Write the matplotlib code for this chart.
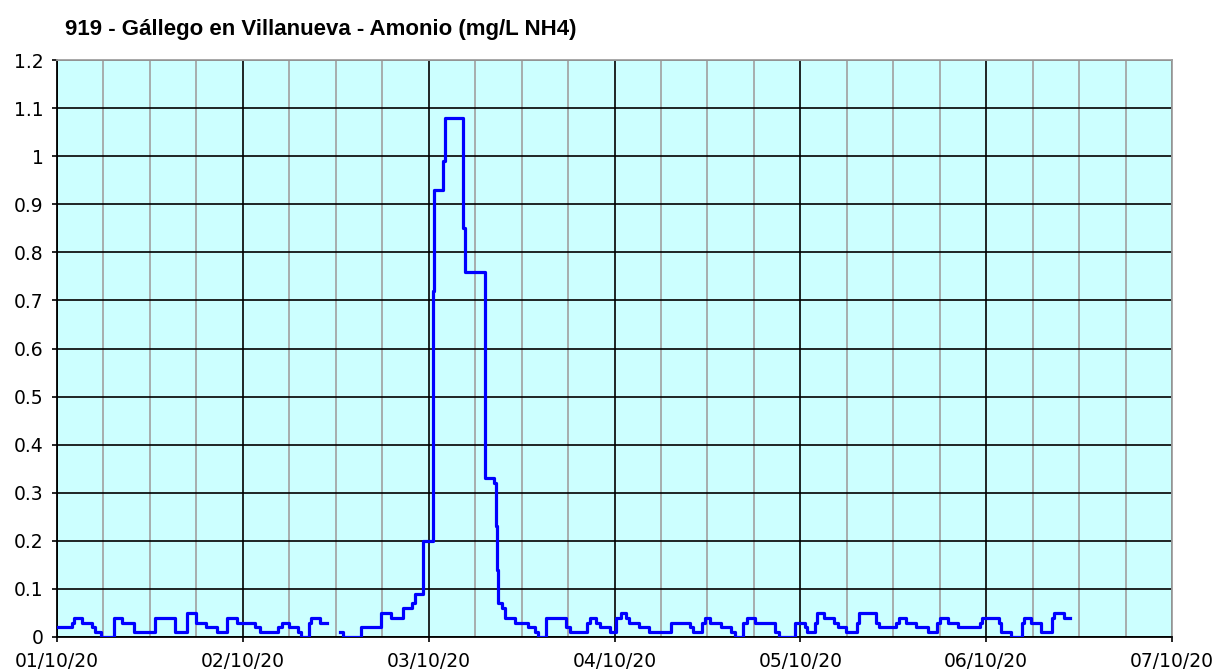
import numpy as np
import matplotlib
matplotlib.use("Agg")
import matplotlib.pyplot as plt
import matplotlib.dates as mdates
from datetime import datetime

title = "919 - Gállego en Villanueva - Amonio (mg/L NH4)"
start = datetime(2020, 10, 1)
n_days = 6

# step series: hour (since 01/10/20 00:00) where a new reading starts, and its value
hours = [0, 1.9, 2.2, 3.2, 4.5, 4.9, 5.7, 7.3, 8.4, 9.9, 12.7, 15.3, 16.8, 17.9, 19.3, 20.6, 21.9, 23.2,
         25.6, 26.2, 28.6, 29.0, 29.9, 31.1, 31.5, 32.5, 32.8, 34.0, 34.9, 36.6, 37.0, 39.3, 41.9, 43.2,
         44.7, 45.8, 46.2, 47.3,
         48.5, 48.75, 49.8, 50.1, 52.4, 52.7, 55.3, 56.4, 56.7, 56.8, 56.9, 57.5, 57.8, 59.1, 60.8, 61.7,
         62.1, 63.2, 65.8, 66.2, 68.5, 68.8, 69.6, 70.1, 71.4,
         72.2, 72.8, 73.5, 73.9, 75.2, 76.5, 79.3, 81.8, 82.1, 83.3, 83.7, 84.3, 85.8, 87.1, 87.6, 88.6,
         89.1, 90.2, 92.75, 93.2, 95.35,
         96.6, 96.8, 97.9, 98.2, 99.1, 100.4, 100.8, 101.9, 103.3, 103.6, 105.8, 106.2, 108.4, 108.8,
         109.7, 111.0, 112.5, 113.6, 114.0, 115.05, 116.3, 119.2, 119.4,
         121.7, 121.9, 123.2, 124.6, 124.9, 125.8, 127.1, 128.5, 128.8, 130.0, 130.8]
nh4 = [0.02, 0.03, 0.04, 0.03, 0.02, 0.01, 0.00, 0.04, 0.03, 0.01, 0.04, 0.01, 0.05, 0.03, 0.02, 0.01, 0.04, 0.03,
       0.02, 0.01, 0.02, 0.03, 0.02, 0.01, 0.00, 0.03, 0.04, 0.03, np.nan, 0.01, 0.00, 0.02, 0.05, 0.04,
       0.06, 0.07, 0.09, 0.20,
       0.72, 0.93, 0.99, 1.08, 0.85, 0.76, 0.33, 0.32, 0.23, 0.14, 0.07, 0.06, 0.04, 0.03, 0.02, 0.01,
       0.00, 0.04, 0.02, 0.01, 0.03, 0.04, 0.03, 0.02, 0.01,
       0.04, 0.05, 0.04, 0.03, 0.02, 0.01, 0.03, 0.02, 0.01, 0.03, 0.04, 0.03, 0.02, 0.01, 0.00, 0.03,
       0.04, 0.03, 0.01, 0.00, 0.03,
       0.02, 0.01, 0.03, 0.05, 0.04, 0.03, 0.02, 0.01, 0.03, 0.05, 0.03, 0.02, 0.03, 0.04,
       0.03, 0.02, 0.01, 0.03, 0.04, 0.03, 0.02, 0.03, 0.04,
       0.03, 0.01, 0.00, 0.03, 0.04, 0.03, 0.01, 0.04, 0.05, 0.04, 0.04]

t0 = mdates.date2num(start)
t = t0 + np.array(hours) / 24.0
v = np.array(nh4, dtype=float)

fig = plt.figure(figsize=(12.17, 6.71), dpi=100)
ax = fig.add_axes([57 / 1217, 1 - 637 / 671, (1172 - 57) / 1217, (637 - 60) / 671])
ax.set_facecolor("#ccffff")

ax.plot(t, v, drawstyle="steps-post", color="#0000ff", lw=2.3, zorder=3)

ax.set_xlim(t0, t0 + n_days)
ax.set_ylim(0, 1.2)
ax.xaxis.set_major_locator(mdates.DayLocator())
ax.xaxis.set_major_formatter(mdates.DateFormatter("%d/%m/%y"))
ax.xaxis.set_minor_locator(mdates.HourLocator(byhour=[6, 12, 18]))
ax.set_yticks(np.round(np.arange(0, 1.21, 0.1), 1))
ax.set_yticklabels(["0", "0.1", "0.2", "0.3", "0.4", "0.5", "0.6", "0.7", "0.8", "0.9", "1", "1.1", "1.2"])

ax.grid(True, which="minor", axis="x", color="#a0a0a0", lw=1.2)
ax.grid(True, which="major", axis="x", color="black", lw=1.2)
ax.grid(True, which="major", axis="y", color="black", lw=1.2)
ax.set_axisbelow(True)

for s in ["left", "bottom"]:
    ax.spines[s].set_color("black")
    ax.spines[s].set_linewidth(1.3)
for s in ["top", "right"]:
    ax.spines[s].set_color("#a0a0a0")
    ax.spines[s].set_linewidth(1.3)

ax.tick_params(axis="both", which="major", labelsize=13.5, width=1.2, color="black")
ax.tick_params(axis="x", which="minor", length=0)
ax.tick_params(axis="x", length=3.5, pad=7)
ax.tick_params(axis="y", length=3.6, pad=6)

fig.text(65 / 1217, 1 - 30 / 671, title, fontsize=16, fontweight="bold",
         family="Liberation Sans", ha="left", va="center")

fig.savefig("out.png", dpi=100, facecolor="white")
